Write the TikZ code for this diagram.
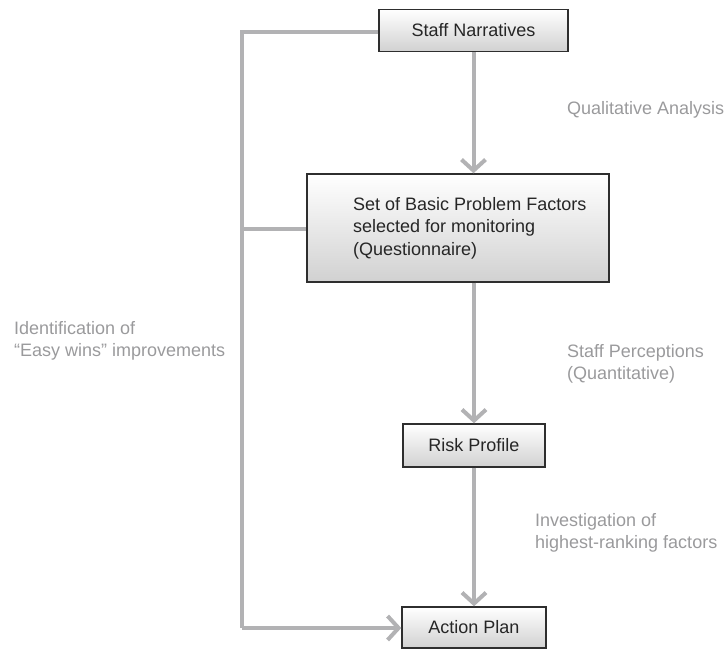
\documentclass[tikz,border=0pt]{standalone}
\usepackage{fontspec}
\setmainfont{Liberation Sans}
\usetikzlibrary{arrows.meta}
\definecolor{linegray}{HTML}{B2B2B4}
\definecolor{labelgray}{HTML}{9A9A9C}
\definecolor{boxborder}{HTML}{2E2E2E}
\begin{document}
\begin{tikzpicture}[x=1pt,y=-1pt,
  box/.style={draw=boxborder, line width=1.4pt, top color=white, bottom color=black!18, inner sep=0pt, font=\fontsize{18}{22.5}\selectfont, text=black!85},
  boxtext/.style={inner sep=0pt, font=\fontsize{18}{22.5}\selectfont, text=black!85, align=left, anchor=west},
  conn/.style={draw=linegray, line width=4pt},
  arr/.style={conn, -{Straight Barb[length=11pt, width=24pt, line width=4pt]}},
  lbl/.style={text=labelgray, font=\fontsize{18}{22.5}\selectfont, align=left, anchor=west, inner sep=0pt}]
\useasboundingbox (0,0) rectangle (724,650);
\node[box, minimum width=189pt, minimum height=42pt] (sn) at (473.5,30.5) {Staff Narratives};
\node[box, minimum width=302pt, minimum height=108pt] (bp) at (458,228) {};
\node[boxtext] (bpt) at (353,228) {Set of Basic Problem Factors\\selected for monitoring\\(Questionnaire)};
\node[box, minimum width=142pt, minimum height=43pt] (rp) at (474,445.5) {Risk Profile};
\node[box, minimum width=144pt, minimum height=41pt] (ap) at (474,627.5) {Action Plan};
\coordinate (tl) at (242,32);
\coordinate (bl) at (242,628);
\coordinate (ml) at (242,229);
\draw[arr] (sn.south) -- (sn.south |- bp.north);
\draw[arr] (bp.south -| rp.north) -- (rp.north);
\draw[arr] (rp.south) -- (ap.north);
\draw[conn, line join=miter] (sn.west |- tl) -- (tl) -- (bl);
\draw[arr] (bl) -- (ap.west |- bl);
\draw[conn] (ml) -- (bp.west |- ml);
\node[lbl] (qa) at (567,110) {Qualitative Analysis};
\node[lbl] (sp) at (567,364) {Staff Perceptions\\(Quantitative)};
\node[lbl] (ih) at (535,533) {Investigation of\\highest-ranking factors};
\node[lbl] (ie) at (14,341) {Identification of\\“Easy wins” improvements};
\end{tikzpicture}
\end{document}
